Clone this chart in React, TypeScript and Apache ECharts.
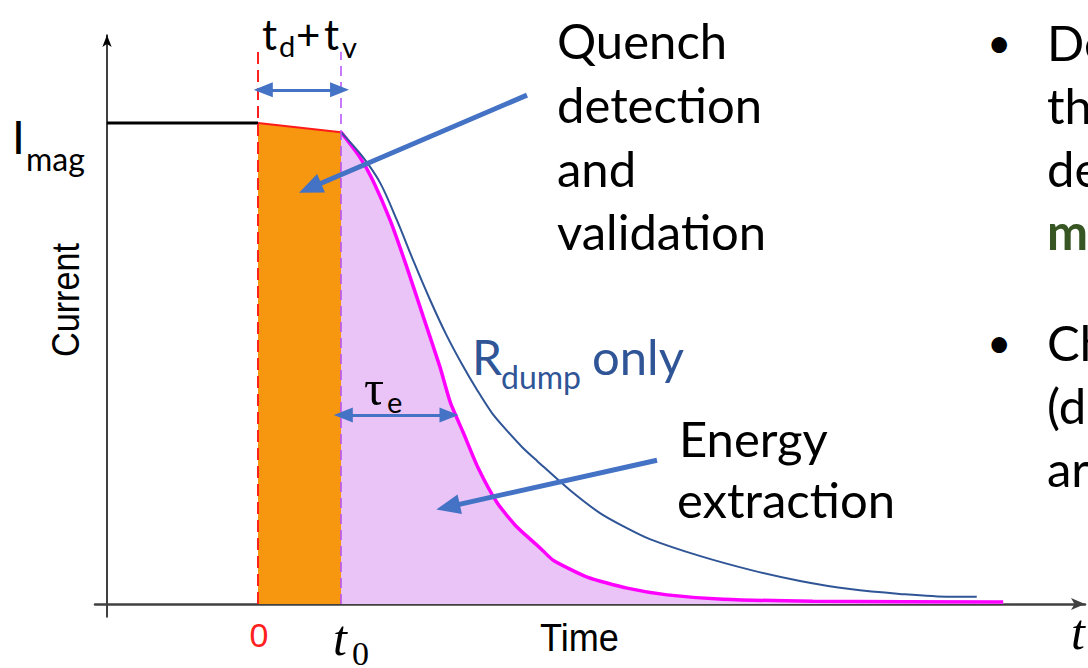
import React, { useEffect, useRef } from "react";
import * as echarts from "echarts";

// ---- data (time in arbitrary units, current normalised to I_mag = 1) ----
const steadyCurrent: [number, number][] = [[0, 1], [2, 1]];
const detectionPhase: [number, number][] = [[2, 1], [3.1, 0.981]];
const energyExtraction: [number, number][] = [
  [3.1, 0.981], [3.35, 0.929], [3.52, 0.881], [3.75, 0.798], [3.97, 0.701],
  [4.19, 0.597], [4.41, 0.493], [4.55, 0.418], [4.72, 0.356], [4.91, 0.285],
  [5.17, 0.21], [5.43, 0.16], [5.74, 0.116], [5.91, 0.091], [6.36, 0.056],
  [6.89, 0.033], [7.42, 0.019], [8.16, 0.01], [9.35, 0.006], [11.87, 0.004],
];
const dumpOnly: [number, number][] = [
  [3.1, 0.981], [3.39, 0.929], [3.62, 0.875], [3.84, 0.798], [4.07, 0.709],
  [4.28, 0.632], [4.49, 0.561], [4.7, 0.499], [4.91, 0.443], [5.1, 0.397],
  [5.3, 0.36], [5.5, 0.326], [5.7, 0.297], [6.13, 0.237], [6.53, 0.189],
  [6.86, 0.16], [7.19, 0.135], [7.85, 0.1], [8.52, 0.071], [9.18, 0.048],
  [9.84, 0.031], [10.5, 0.021], [11.17, 0.015], [11.52, 0.015],
];
const quenchStart = 2;
const t0 = 3.1;
const dashTop = 1.148;
const xRange = [-0.159, 12.954];
const yRange = [-0.027, 1.183];

const BLUE = "#4472C4";
const NAVY = "#2F5597";
const SANS = "Lato";
const SERIF = "Liberation Serif";

function txt(text: string, x: number, y: number, size: number, opts: any = {}) {
  return {
    type: "text",
    x,
    y,
    z: 100,
    rotation: opts.rotation || 0,
    scaleX: opts.scaleX || 1,
    scaleY: opts.scaleY || 1,
    style: {
      text,
      fontSize: size,
      fontFamily: opts.family || SANS,
      fontStyle: opts.italic ? "italic" : "normal",
      fontWeight: opts.bold ? "bold" : "normal",
      fill: opts.color || "#000",
      textAlign: opts.align || "left",
      textVerticalAlign: "middle",
    },
  };
}

export default function App() {
  const ref = useRef<HTMLDivElement>(null);
  useEffect(() => {
    const chart = echarts.init(ref.current!, null, { renderer: "svg" });
    const arrowSeries = (a: number[], b: number[], sym: string[], width: number, size: number[]) => ({
      type: "line",
      data: [],
      z: 5,
      markLine: {
        silent: true,
        label: { show: false },
        symbol: sym,
        symbolSize: size,
        lineStyle: { color: BLUE, width, type: "solid" },
        data: [[{ coord: a }, { coord: b }]],
      },
    });
    chart.setOption({
      animation: false,
      backgroundColor: "#fff",
      grid: { left: 95, right: 3, top: 35, bottom: 51 },
      xAxis: {
        type: "value",
        min: xRange[0],
        max: xRange[1],
        axisLine: {
          onZero: true,
          symbol: ["none", "arrow"],
          symbolSize: [9, 14],
          lineStyle: { color: "#404040", width: 2.5 },
        },
        axisTick: { show: false },
        axisLabel: { show: false },
        splitLine: { show: false },
      },
      yAxis: {
        type: "value",
        min: yRange[0],
        max: yRange[1],
        axisLine: {
          onZero: true,
          symbol: ["none", "arrow"],
          symbolSize: [7, 12],
          lineStyle: { color: "#000", width: 1.5 },
        },
        axisTick: { show: false },
        axisLabel: { show: false },
        splitLine: { show: false },
      },
      series: [
        {
          type: "line",
          data: energyExtraction,
          smooth: 0.2,
          showSymbol: false,
          lineStyle: { color: "#FF00FF", width: 3.5 },
          areaStyle: { color: "#EAC3F7", opacity: 1 },
          z: 2,
        },
        {
          type: "line",
          data: dumpOnly,
          smooth: 0.3,
          showSymbol: false,
          lineStyle: { color: NAVY, width: 2 },
          z: 3,
        },
        {
          type: "line",
          data: detectionPhase,
          showSymbol: false,
          lineStyle: { color: "#FF1A1A", width: 2 },
          areaStyle: { color: "#F7960F", opacity: 1 },
          z: 3,
        },
        {
          type: "line",
          data: steadyCurrent,
          showSymbol: false,
          lineStyle: { color: "#000", width: 3 },
          z: 3,
        },
        {
          type: "line",
          data: [],
          z: 4,
          markLine: {
            silent: true,
            symbol: ["none", "none"],
            label: { show: false },
            data: [
              [
                { coord: [quenchStart, 0], lineStyle: { color: "#FF2020", width: 2, type: [12, 6] } },
                { coord: [quenchStart, dashTop] },
              ],
              [
                { coord: [t0, 0], lineStyle: { color: "#B84DFF", width: 1.5, type: [10, 6] } },
                { coord: [t0, dashTop] },
              ],
            ],
          },
        },
        arrowSeries([quenchStart + 0.07, 1.069], [t0 - 0.02, 1.069], ["triangle", "triangle"], 3, [15, 19]),
        arrowSeries([t0 + 0.03, 0.393], [4.53, 0.393], ["triangle", "triangle"], 3, [15, 19]),
        arrowSeries([5.563, 1.058], [2.689, 0.865], ["none", "triangle"], 5, [20, 24]),
        arrowSeries([7.285, 0.299], [4.517, 0.202], ["none", "triangle"], 5, [20, 24]),
        arrowSeries([3.669, -0.048], [4.424, -0.048], ["none", "triangle"], 2.5, [14, 17]),
      ],
      graphic: [
        txt("Quench", 557, 40, 49),
        txt("detection", 557, 104, 49),
        txt("and", 557, 168, 49),
        txt("validation", 557, 231, 49),
        txt("Energy", 679, 438, 49),
        txt("extraction", 677, 499, 49),
        txt("R", 472, 356, 48, { color: NAVY }),
        txt("dump", 501, 376, 32, { color: NAVY }),
        txt("only", 592, 356, 49, { color: NAVY }),
        txt("•", 987, 42, 42),
        txt("De", 1047, 42, 49),
        txt("th", 1047, 105, 49),
        txt("de", 1047, 168, 49),
        txt("m", 1047, 231, 49, { bold: true, color: "#375623" }),
        txt("•", 987, 342, 42),
        txt("Ch", 1047, 342, 49),
        txt("(d", 1047, 405, 49),
        txt("ar", 1047, 468, 49),
        txt("I", 12, 136, 46),
        txt("mag", 26, 158, 32),
        txt("Current", 66, 300, 38, { family: "Liberation Sans", rotation: Math.PI / 2, align: "center", scaleX: 0.9 }),
        txt("Time", 540, 638, 38, { family: "Liberation Sans", scaleX: 0.95 }),
        txt("0", 259, 635, 34, { family: "Liberation Sans", color: "#FF2020", align: "center" }),
        txt("t", 333, 638, 50, { family: SERIF, italic: true }),
        txt("0", 352, 653, 34, { family: SERIF }),
        txt("t", 1071, 632, 50, { family: SERIF, italic: true }),
        txt("t", 262, 34, 42),
        txt("d", 279, 45, 29),
        txt("+", 296, 34, 42),
        txt("t", 324, 34, 42),
        txt("v", 342, 46, 29),
        txt("τ", 364, 388, 50, { family: SERIF }),
        txt("e", 387, 401, 29),
      ],
    });
    return () => chart.dispose();
  }, []);
  return (
    <div
      ref={ref}
      style={{ position: "fixed", left: 0, top: 0, width: 1088, height: 668, background: "#fff" }}
    />
  );
}
